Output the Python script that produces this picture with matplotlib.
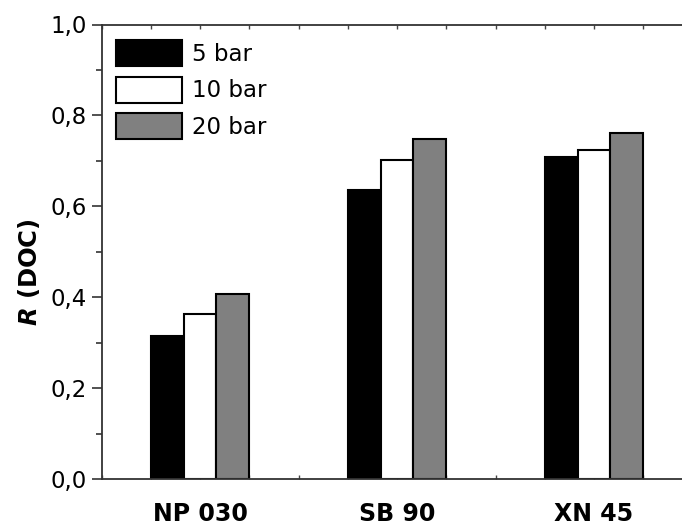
import matplotlib
matplotlib.use("Agg")
import matplotlib.pyplot as plt
from matplotlib.ticker import MultipleLocator, FixedLocator
import numpy as np

# Data
membranes = ["NP 030", "SB 90", "XN 45"]
pressures = ["5 bar", "10 bar", "20 bar"]
r_5bar = [0.315, 0.635, 0.708]
r_10bar = [0.362, 0.702, 0.724]
r_20bar = [0.408, 0.747, 0.761]
ytick_values = [0.0, 0.2, 0.4, 0.6, 0.8, 1.0]
ytick_labels = ["0,0", "0,2", "0,4", "0,6", "0,8", "1,0"]

series = [r_5bar, r_10bar, r_20bar]
fills = ["#000000", "#ffffff", "#808080"]

plt.rcParams["font.family"] = ["DejaVu Sans"]
plt.rcParams["mathtext.fontset"] = "dejavusans"

fig = plt.figure(figsize=(6.82, 5.27), dpi=100)
W, H = 682, 527
ax = fig.add_axes([101.5 / W, (H - 479) / H, 591 / W, 454.5 / H])

x = np.arange(1, len(membranes) + 1)
bw = 1 / 6
handles = []
for i, (vals, fc) in enumerate(zip(series, fills)):
    b = ax.bar(x + (i - 1) * bw, vals, width=bw, color=fc,
               edgecolor="black", linewidth=1.5, label=pressures[i], zorder=2)
    handles.append(b)

ax.set_xlim(0.5, 3.5)
ax.set_ylim(0.0, 1.0)

# y axis
ax.yaxis.set_major_locator(FixedLocator(ytick_values))
ax.set_yticklabels(ytick_labels)
ax.yaxis.set_minor_locator(MultipleLocator(0.1))
ax.tick_params(axis="y", which="major", direction="out", length=7, width=1.1,
               labelsize=16.5, pad=3.5, colors="#222222", labelcolor="black")
ax.tick_params(axis="y", which="minor", direction="out", length=4, width=1.1,
               colors="#222222")
ax.tick_params(axis="y", right=False, which="both")

# x axis
ax.set_xticks(x)
ax.set_xticklabels(membranes, fontsize=17, fontweight="bold")
ax.xaxis.set_minor_locator(MultipleLocator(0.25))
ax.tick_params(axis="x", which="both", direction="in", length=3, width=1.0,
               top=True, bottom=True, pad=16.5, colors="#444444", labelcolor="black")

for s in ax.spines.values():
    s.set_linewidth(1.3)
    s.set_color("#333333")

ax.set_ylabel(r"$\mathbfit{R}$ (DOC)", fontsize=17.5, fontweight="bold")
ax.yaxis.set_label_coords(-0.1005, 0.455)

leg = ax.legend(handles=handles, loc="upper left",
                bbox_to_anchor=((116 - 101.5) / 591, (479 - 40) / 454.5),
                frameon=False, fontsize=16.5, borderpad=0, borderaxespad=0,
                handlelength=2.87, handleheight=1.37, handletextpad=0.43,
                labelspacing=0.46)

fig.savefig("out.png", dpi=100)
